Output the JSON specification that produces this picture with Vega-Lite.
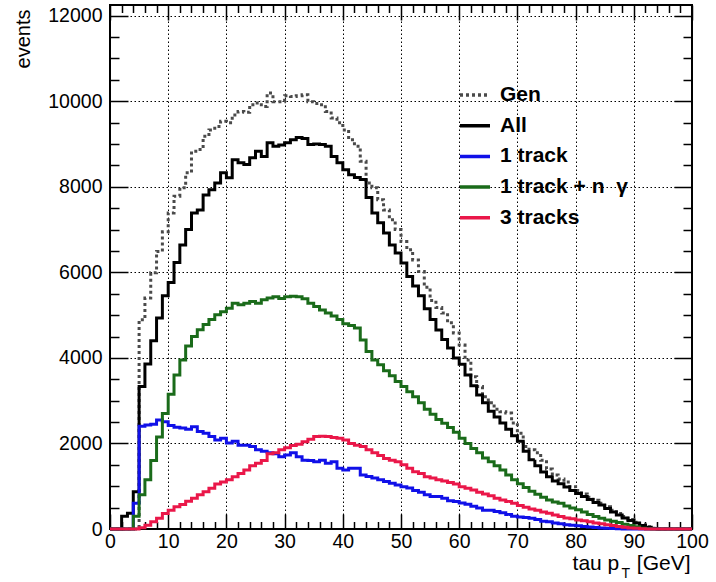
{
  "$schema": "https://vega.github.io/schema/vega-lite/v6.json",
  "width": 582,
  "height": 524,
  "autosize": "none",
  "padding": {"left": 110, "top": 5, "right": 24, "bottom": 53},
  "background": "white",
  "config": {
    "view": {"stroke": "#000", "strokeWidth": 2},
    "font": "Liberation Sans",
    "axis": {"labelColor": "#000", "titleColor": "#000", "tickColor": "#000", "domain": false, "labelFont": "Liberation Sans", "titleFont": "Liberation Sans", "titleFontWeight": "normal", "labelFlush": false, "labelOverlap": false}
  },
  "data": {"values": [
    {"x":0,"gen":0,"all":0,"trk1":0,"trk1g":0,"trk3":0},
    {"x":1,"gen":0,"all":0,"trk1":0,"trk1g":0,"trk3":0},
    {"x":2,"gen":0,"all":300,"trk1":0,"trk1g":0,"trk3":0},
    {"x":3,"gen":0,"all":370,"trk1":0,"trk1g":0,"trk3":0},
    {"x":4,"gen":0,"all":870,"trk1":600,"trk1g":300,"trk3":0},
    {"x":5,"gen":4890,"all":3330,"trk1":2400,"trk1g":800,"trk3":30},
    {"x":6,"gen":5400,"all":3860,"trk1":2430,"trk1g":1150,"trk3":90},
    {"x":7,"gen":5990,"all":4400,"trk1":2450,"trk1g":1600,"trk3":170},
    {"x":8,"gen":6490,"all":4930,"trk1":2550,"trk1g":2150,"trk3":250},
    {"x":9,"gen":6950,"all":5450,"trk1":2510,"trk1g":2700,"trk3":360},
    {"x":10,"gen":7390,"all":5760,"trk1":2420,"trk1g":3150,"trk3":440},
    {"x":11,"gen":7780,"all":6230,"trk1":2380,"trk1g":3600,"trk3":520},
    {"x":12,"gen":7980,"all":6640,"trk1":2360,"trk1g":3950,"trk3":570},
    {"x":13,"gen":8330,"all":7000,"trk1":2330,"trk1g":4280,"trk3":650},
    {"x":14,"gen":8830,"all":7390,"trk1":2390,"trk1g":4500,"trk3":720},
    {"x":15,"gen":8870,"all":7460,"trk1":2280,"trk1g":4660,"trk3":800},
    {"x":16,"gen":9180,"all":7810,"trk1":2240,"trk1g":4780,"trk3":870},
    {"x":17,"gen":9330,"all":7930,"trk1":2160,"trk1g":4900,"trk3":950},
    {"x":18,"gen":9410,"all":8090,"trk1":2080,"trk1g":5010,"trk3":1050},
    {"x":19,"gen":9530,"all":8330,"trk1":2120,"trk1g":5080,"trk3":1100},
    {"x":20,"gen":9500,"all":8210,"trk1":2010,"trk1g":5160,"trk3":1150},
    {"x":21,"gen":9680,"all":8630,"trk1":2050,"trk1g":5280,"trk3":1220},
    {"x":22,"gen":9760,"all":8560,"trk1":1960,"trk1g":5240,"trk3":1300},
    {"x":23,"gen":9740,"all":8520,"trk1":1960,"trk1g":5280,"trk3":1380},
    {"x":24,"gen":9920,"all":8680,"trk1":1930,"trk1g":5320,"trk3":1480},
    {"x":25,"gen":9960,"all":8830,"trk1":1850,"trk1g":5280,"trk3":1540},
    {"x":26,"gen":9880,"all":8710,"trk1":1820,"trk1g":5360,"trk3":1600},
    {"x":27,"gen":10190,"all":9030,"trk1":1780,"trk1g":5400,"trk3":1760},
    {"x":28,"gen":9990,"all":8950,"trk1":1760,"trk1g":5430,"trk3":1780},
    {"x":29,"gen":9990,"all":8980,"trk1":1690,"trk1g":5390,"trk3":1850},
    {"x":30,"gen":10130,"all":9030,"trk1":1730,"trk1g":5430,"trk3":1900},
    {"x":31,"gen":10110,"all":9100,"trk1":1780,"trk1g":5440,"trk3":1950},
    {"x":32,"gen":10130,"all":9150,"trk1":1690,"trk1g":5430,"trk3":1980},
    {"x":33,"gen":10150,"all":9130,"trk1":1610,"trk1g":5380,"trk3":2040},
    {"x":34,"gen":9990,"all":8990,"trk1":1600,"trk1g":5280,"trk3":2100},
    {"x":35,"gen":9950,"all":9000,"trk1":1570,"trk1g":5200,"trk3":2160},
    {"x":36,"gen":9920,"all":8990,"trk1":1610,"trk1g":5120,"trk3":2170},
    {"x":37,"gen":9760,"all":8950,"trk1":1540,"trk1g":5050,"trk3":2160},
    {"x":38,"gen":9610,"all":8710,"trk1":1570,"trk1g":4980,"trk3":2140},
    {"x":39,"gen":9500,"all":8560,"trk1":1420,"trk1g":4900,"trk3":2120},
    {"x":40,"gen":9330,"all":8400,"trk1":1380,"trk1g":4800,"trk3":2080},
    {"x":41,"gen":9100,"all":8280,"trk1":1420,"trk1g":4760,"trk3":2000},
    {"x":42,"gen":8950,"all":8220,"trk1":1420,"trk1g":4700,"trk3":1960},
    {"x":43,"gen":8600,"all":8170,"trk1":1260,"trk1g":4420,"trk3":1930},
    {"x":44,"gen":8090,"all":7750,"trk1":1230,"trk1g":4150,"trk3":1850},
    {"x":45,"gen":7980,"all":7390,"trk1":1190,"trk1g":3950,"trk3":1780},
    {"x":46,"gen":7700,"all":7160,"trk1":1150,"trk1g":3840,"trk3":1720},
    {"x":47,"gen":7460,"all":6920,"trk1":1110,"trk1g":3700,"trk3":1650},
    {"x":48,"gen":7230,"all":6640,"trk1":1070,"trk1g":3580,"trk3":1610},
    {"x":49,"gen":7000,"all":6450,"trk1":1030,"trk1g":3450,"trk3":1570},
    {"x":50,"gen":6720,"all":6220,"trk1":990,"trk1g":3330,"trk3":1500},
    {"x":51,"gen":6530,"all":5900,"trk1":960,"trk1g":3210,"trk3":1420},
    {"x":52,"gen":6290,"all":5680,"trk1":900,"trk1g":3090,"trk3":1340},
    {"x":53,"gen":6020,"all":5450,"trk1":860,"trk1g":2950,"trk3":1300},
    {"x":54,"gen":5650,"all":5150,"trk1":800,"trk1g":2800,"trk3":1220},
    {"x":55,"gen":5340,"all":4900,"trk1":760,"trk1g":2680,"trk3":1190},
    {"x":56,"gen":5180,"all":4650,"trk1":760,"trk1g":2560,"trk3":1150},
    {"x":57,"gen":5050,"all":4430,"trk1":720,"trk1g":2470,"trk3":1120},
    {"x":58,"gen":4820,"all":4230,"trk1":660,"trk1g":2370,"trk3":1090},
    {"x":59,"gen":4580,"all":4000,"trk1":640,"trk1g":2260,"trk3":1050},
    {"x":60,"gen":4300,"all":3850,"trk1":610,"trk1g":2120,"trk3":990},
    {"x":61,"gen":3950,"all":3600,"trk1":580,"trk1g":2000,"trk3":950},
    {"x":62,"gen":3560,"all":3350,"trk1":530,"trk1g":1880,"trk3":910},
    {"x":63,"gen":3330,"all":3130,"trk1":490,"trk1g":1780,"trk3":860},
    {"x":64,"gen":3090,"all":2950,"trk1":440,"trk1g":1660,"trk3":820},
    {"x":65,"gen":2950,"all":2750,"trk1":440,"trk1g":1570,"trk3":780},
    {"x":66,"gen":2800,"all":2620,"trk1":410,"trk1g":1480,"trk3":720},
    {"x":67,"gen":2740,"all":2480,"trk1":380,"trk1g":1380,"trk3":680},
    {"x":68,"gen":2710,"all":2330,"trk1":340,"trk1g":1260,"trk3":640},
    {"x":69,"gen":2480,"all":2180,"trk1":300,"trk1g":1150,"trk3":600},
    {"x":70,"gen":2240,"all":2050,"trk1":280,"trk1g":1060,"trk3":550},
    {"x":71,"gen":1930,"all":1820,"trk1":270,"trk1g":970,"trk3":510},
    {"x":72,"gen":1850,"all":1620,"trk1":250,"trk1g":880,"trk3":470},
    {"x":73,"gen":1780,"all":1480,"trk1":220,"trk1g":810,"trk3":440},
    {"x":74,"gen":1610,"all":1330,"trk1":180,"trk1g":740,"trk3":400},
    {"x":75,"gen":1400,"all":1220,"trk1":170,"trk1g":680,"trk3":370},
    {"x":76,"gen":1260,"all":1120,"trk1":140,"trk1g":630,"trk3":330},
    {"x":77,"gen":1170,"all":1060,"trk1":120,"trk1g":600,"trk3":290},
    {"x":78,"gen":1100,"all":980,"trk1":100,"trk1g":540,"trk3":260},
    {"x":79,"gen":990,"all":900,"trk1":90,"trk1g":490,"trk3":240},
    {"x":80,"gen":900,"all":830,"trk1":75,"trk1g":450,"trk3":210},
    {"x":81,"gen":820,"all":760,"trk1":60,"trk1g":400,"trk3":190},
    {"x":82,"gen":740,"all":690,"trk1":45,"trk1g":340,"trk3":170},
    {"x":83,"gen":670,"all":620,"trk1":35,"trk1g":290,"trk3":140},
    {"x":84,"gen":600,"all":560,"trk1":25,"trk1g":250,"trk3":120},
    {"x":85,"gen":520,"all":480,"trk1":15,"trk1g":210,"trk3":100},
    {"x":86,"gen":440,"all":400,"trk1":10,"trk1g":180,"trk3":80},
    {"x":87,"gen":360,"all":330,"trk1":5,"trk1g":150,"trk3":60},
    {"x":88,"gen":290,"all":260,"trk1":0,"trk1g":110,"trk3":40},
    {"x":89,"gen":220,"all":200,"trk1":0,"trk1g":80,"trk3":25},
    {"x":90,"gen":160,"all":140,"trk1":0,"trk1g":50,"trk3":15},
    {"x":91,"gen":100,"all":80,"trk1":0,"trk1g":20,"trk3":5},
    {"x":92,"gen":55,"all":40,"trk1":0,"trk1g":5,"trk3":0},
    {"x":93,"gen":20,"all":12,"trk1":0,"trk1g":0,"trk3":0},
    {"x":94,"gen":0,"all":0,"trk1":0,"trk1g":0,"trk3":0},
    {"x":95,"gen":0,"all":0,"trk1":0,"trk1g":0,"trk3":0},
    {"x":96,"gen":0,"all":0,"trk1":0,"trk1g":0,"trk3":0},
    {"x":97,"gen":0,"all":0,"trk1":0,"trk1g":0,"trk3":0},
    {"x":98,"gen":0,"all":0,"trk1":0,"trk1g":0,"trk3":0},
    {"x":99,"gen":0,"all":0,"trk1":0,"trk1g":0,"trk3":0},
    {"x":100,"gen":0,"all":0,"trk1":0,"trk1g":0,"trk3":0}
  ]},
  "transform": [{"fold": ["gen", "all", "trk1", "trk1g", "trk3"], "as": ["series", "y"]}],
  "layer": [
    {
      "mark": {"type": "point", "opacity": 0, "size": 0},
      "encoding": {
        "x": {"field": "x", "type": "quantitative", "scale": {"domain": [0, 100], "nice": false, "zero": false},
          "axis": {"orient": "bottom", "values": [0,2,4,6,8,10,12,14,16,18,20,22,24,26,28,30,32,34,36,38,40,42,44,46,48,50,52,54,56,58,60,62,64,66,68,70,72,74,76,78,80,82,84,86,88,90,92,94,96,98,100],
            "labels": false, "grid": false, "domain": false, "tickWidth": 1.5,
            "tickSize": {"condition": {"test": "datum.value % 10 === 0", "value": -15}, "value": -7.5},
            "title": "T", "titleX": 511, "titleY": 48, "titleAlign": "left", "titleBaseline": "alphabetic", "titleAngle": 0, "titleFontSize": 14, "titleFontWeight": "normal"}},
        "y": {"field": "y", "type": "quantitative", "scale": {"domain": [0, 12250], "nice": false},
          "axis": {"orient": "left", "values": [0,500,1000,1500,2000,2500,3000,3500,4000,4500,5000,5500,6000,6500,7000,7500,8000,8500,9000,9500,10000,10500,11000,11500,12000],
            "labels": false, "grid": false, "domain": false, "tickWidth": 1.5,
            "tickSize": {"condition": {"test": "datum.value % 2000 === 0", "value": -18}, "value": -9},
            "title": null}}
      }
    },
    {
      "mark": {"type": "point", "opacity": 0, "size": 0},
      "encoding": {
        "x": {"field": "x", "type": "quantitative",
          "axis": {"orient": "top", "values": [0,2,4,6,8,10,12,14,16,18,20,22,24,26,28,30,32,34,36,38,40,42,44,46,48,50,52,54,56,58,60,62,64,66,68,70,72,74,76,78,80,82,84,86,88,90,92,94,96,98,100],
            "labels": false, "grid": false, "domain": false, "tickWidth": 1.5,
            "tickSize": {"condition": {"test": "datum.value % 10 === 0", "value": -15}, "value": -7.5},
            "title": null}},
        "y": {"field": "y", "type": "quantitative",
          "axis": {"orient": "right", "values": [0,500,1000,1500,2000,2500,3000,3500,4000,4500,5000,5500,6000,6500,7000,7500,8000,8500,9000,9500,10000,10500,11000,11500,12000],
            "labels": false, "grid": false, "domain": false, "tickWidth": 1.5,
            "tickSize": {"condition": {"test": "datum.value % 2000 === 0", "value": -18}, "value": -9},
            "title": null}}
      }
    },
    {
      "mark": {"type": "line", "interpolate": "step-after", "strokeWidth": 3},
      "encoding": {
        "x": {"field": "x", "type": "quantitative",
          "axis": {"orient": "bottom", "values": [0,10,20,30,40,50,60,70,80,90,100], "ticks": false, "domain": false,
            "labelFontSize": 19.5, "labelPadding": 3, "grid": true, "gridColor": "#000", "gridDash": [1.5, 2.5], "gridWidth": 1,
            "title": "tau p\u00a0\u00a0\u00a0[GeV]", "titleFontSize": 21, "titleX": 580, "titleY": 40, "titleAlign": "right", "titleBaseline": "alphabetic", "titleAngle": 0}},
        "y": {"field": "y", "type": "quantitative",
          "axis": {"orient": "left", "values": [0,2000,4000,6000,8000,10000,12000], "format": "d", "ticks": false, "domain": false,
            "labelFontSize": 19.5, "labelPadding": 8, "grid": true, "gridColor": "#000", "gridDash": [1.5, 2.5], "gridWidth": 1,
            "title": "events", "titleFontSize": 20, "titleX": -97, "titleY": 4, "titleAngle": -90, "titleAlign": "right", "titleBaseline": "top"}},
        "color": {"field": "series", "type": "nominal",
          "scale": {"domain": ["gen", "all", "trk1", "trk1g", "trk3"], "range": ["#4a4a4a", "#000000", "#1010e8", "#1a6b1a", "#ea1749"]},
          "legend": {"title": null, "orient": "none", "legendX": 348, "legendY": 73, "padding": 0, "symbolType": "stroke", "symbolSize": 900, "symbolStrokeWidth": 3.5, "labelFontSize": 21, "labelFontWeight": "bold", "labelFont": "Liberation Sans", "labelColor": "#000", "labelOffset": 8, "rowPadding": 3.7, "labelLimit": 300,
            "labelExpr": "{'gen':'Gen','all':'All','trk1':'1 track','trk1g':'1 track + n\u00a0\u00a0γ','trk3':'3 tracks'}[datum.label]"}},
        "strokeDash": {"field": "series", "type": "nominal",
          "scale": {"domain": ["gen", "all", "trk1", "trk1g", "trk3"], "range": [[3, 3], [1, 0], [1, 0], [1, 0], [1, 0]]},
          "legend": {"title": null, "orient": "none", "legendX": 348, "legendY": 73, "padding": 0, "symbolType": "stroke", "symbolSize": 900, "symbolStrokeWidth": 3.5, "labelFontSize": 21, "labelFontWeight": "bold", "labelFont": "Liberation Sans", "labelColor": "#000", "labelOffset": 8, "rowPadding": 3.7, "labelLimit": 300,
            "labelExpr": "{'gen':'Gen','all':'All','trk1':'1 track','trk1g':'1 track + n\u00a0\u00a0γ','trk3':'3 tracks'}[datum.label]"}}
      }
    }
  ],
  "resolve": {"axis": {"x": "independent", "y": "independent"}}
}
